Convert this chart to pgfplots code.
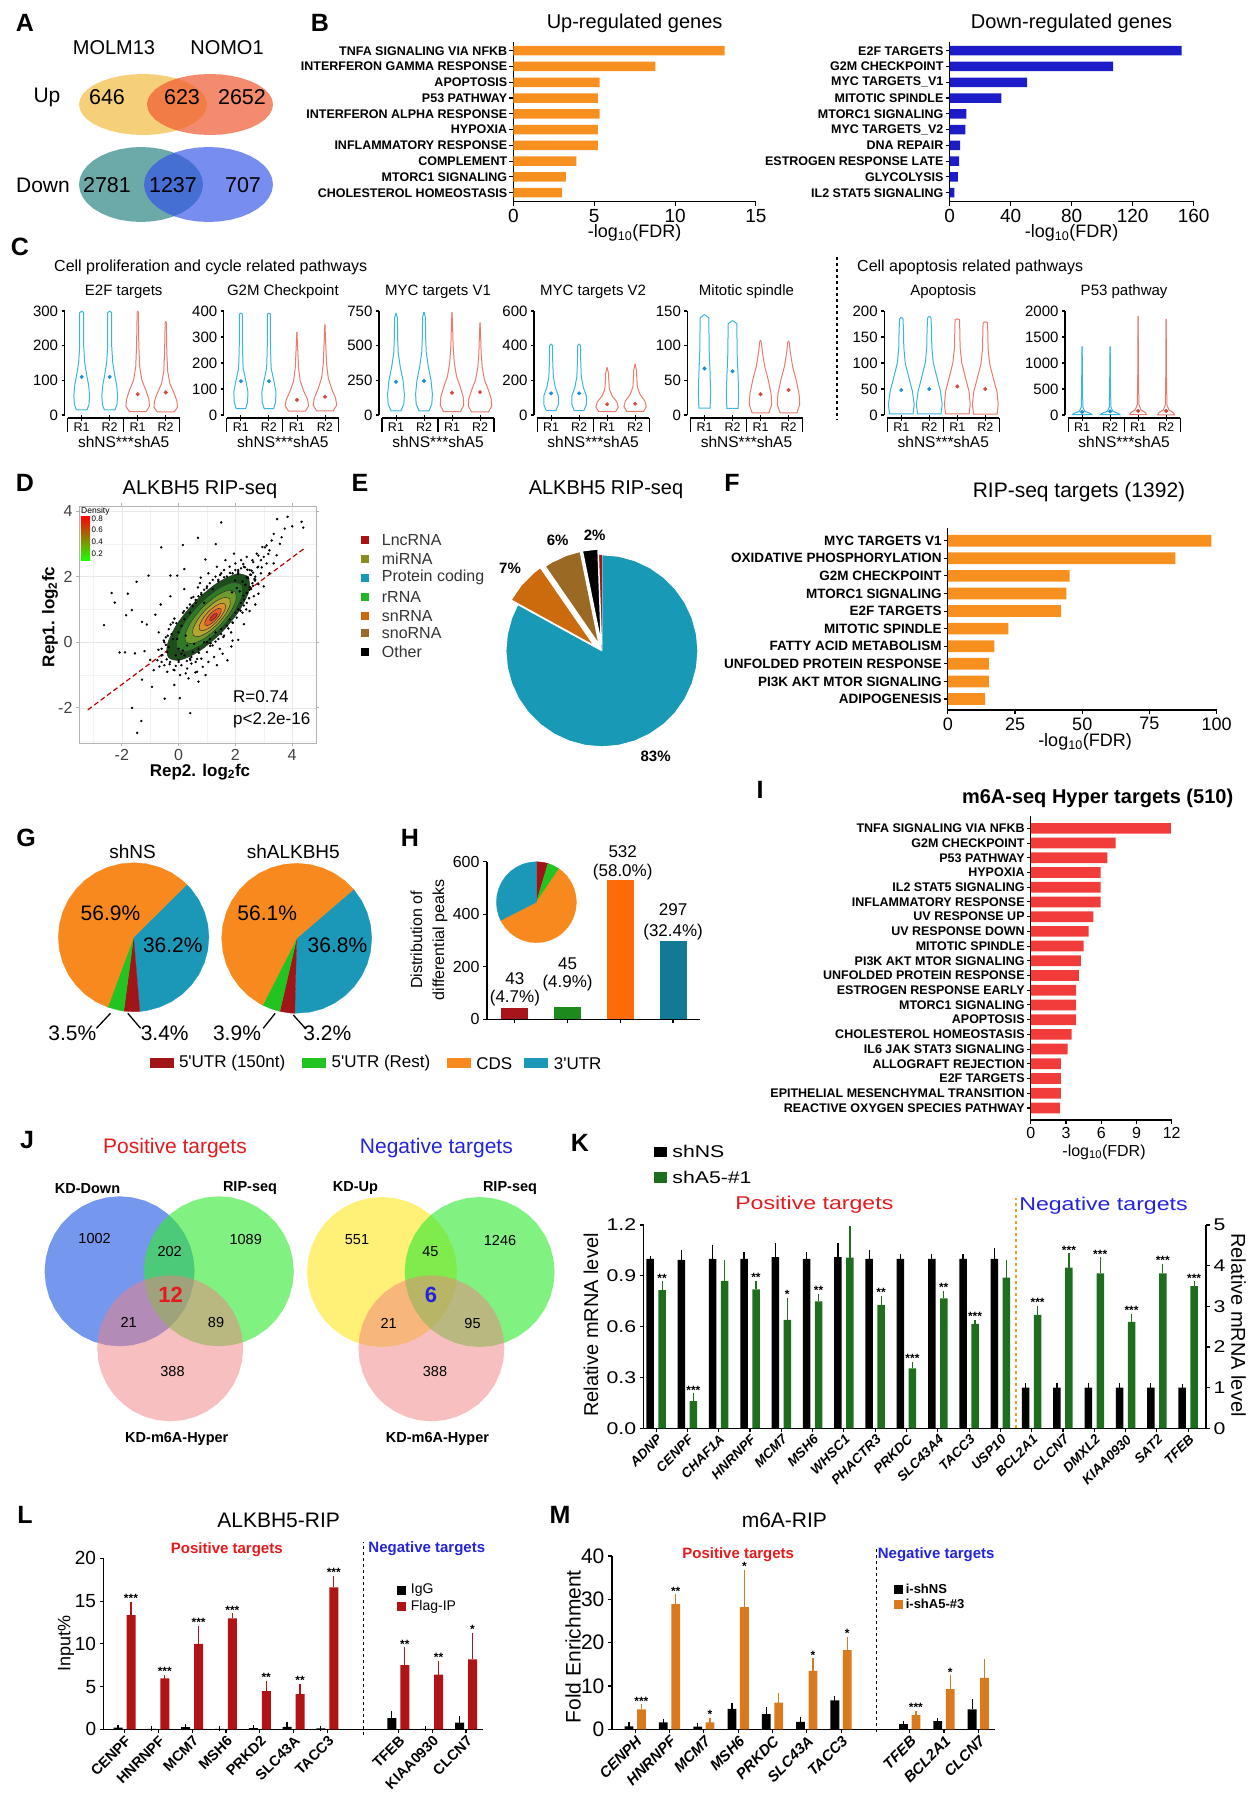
\documentclass[border=0pt]{standalone}
\usepackage{fontspec}
\setmainfont{Liberation Sans}
\newfontfamily\kfont[FakeStretch=1.25]{Liberation Sans}
\usepackage{pgfplots}
\pgfplotsset{compat=1.18}
\usepackage{pgfplotstable}
\usepgfplotslibrary{polar}
\newcommand{\fs}[1]{\fontsize{#1}{#1}\selectfont}
\newcommand{\bfit}{\bfseries\itshape}
\newcommand{\tx}[4][]{\node[inner sep=0pt,#1] at (#2pt,-#3pt) {#4};}

\definecolor{upor}{HTML}{F7901E}
\definecolor{dnbl}{HTML}{1C1CC8}
\definecolor{vblue}{HTML}{3AB5E2}
\definecolor{vred}{HTML}{E97B6D}
\definecolor{vbdot}{HTML}{1B8FD0}
\definecolor{vrdot}{HTML}{D4473B}
\definecolor{aY}{HTML}{F0B020}
\definecolor{aR}{HTML}{F05A30}
\definecolor{aT}{HTML}{2E8585}
\definecolor{aB}{HTML}{3050E8}
\definecolor{eLnc}{HTML}{A81414}
\definecolor{eMi}{HTML}{8C8C1E}
\definecolor{eProt}{HTML}{1899B5}
\definecolor{eR}{HTML}{22B422}
\definecolor{eSn}{HTML}{CC6A0E}
\definecolor{eSno}{HTML}{9A6A24}
\definecolor{gOr}{HTML}{F7891F}
\definecolor{gTe}{HTML}{1B98B8}
\definecolor{gRe}{HTML}{A11418}
\definecolor{gGr}{HTML}{22C422}
\definecolor{hRe}{HTML}{A8141C}
\definecolor{hGr}{HTML}{1D8A1D}
\definecolor{hOr}{HTML}{FF6A0A}
\definecolor{hTe}{HTML}{137A96}
\definecolor{iRed}{HTML}{F23C3C}
\definecolor{jBl}{HTML}{3B6BE6}
\definecolor{jGr}{HTML}{33E833}
\definecolor{jPk}{HTML}{F08080}
\definecolor{jYe}{HTML}{FFE830}
\definecolor{kGr}{HTML}{1E6E1E}
\definecolor{lRe}{HTML}{B01414}
\definecolor{mOr}{HTML}{D97A1E}
\definecolor{posR}{HTML}{E41A1C}
\definecolor{negB}{HTML}{2323DD}
\definecolor{kDiv}{HTML}{F0A020}
\definecolor{dA}{HTML}{1E4D1C}
\definecolor{dB}{HTML}{2F7A26}
\definecolor{dC}{HTML}{6F9A2C}
\definecolor{dD}{HTML}{B5A532}
\definecolor{dE}{HTML}{DE8E2C}
\definecolor{dF}{HTML}{E5602A}
\definecolor{dG}{HTML}{DD2A22}

\pgfplotsset{
  every axis/.append style={/pgf/number format/assume math mode=true, /pgf/number format/1000 sep={}},
  base/.style={scale only axis, clip=false, axis line style={line width=1.3pt}, tick style={line width=1.1pt, black}, tick align=outside, major tick length=4pt, ticklabel style={font=\fs{17}}},
  hbar/.style={base, xbar, bar width=#1, axis x line*=bottom, axis y line*=left, yticklabel style={font=\bfseries\fs{12.5}, inner sep=2pt}, ytick={1,...,10}},
  pie/.style={scale only axis, hide axis, clip=false, xmin=-1, xmax=1, ymin=-1, ymax=1, anchor=center, data cs=polar},
  vio/.style={base, width=118.2pt, height=104pt, xmin=0.39, xmax=4.61, ymin=0, axis y line*=left, axis x line=none, xtick=\empty, ticklabel style={font=\fs{15}}, major tick length=3pt, anchor=south west},
  eb/.style={error bars/.cd, y dir=plus, y explicit, error bar style={line width=1.2pt, #1}, error mark options={line width=1.2pt, #1, mark size=2.5pt}},
  kax/.style={base, width=562.4pt, height=203.3pt, at={(643.6pt,-1428.3pt)}, anchor=south west, xmin=-0.4, xmax=17.57, ymin=0, ybar, bar width=7.5pt, ticklabel style={font=\kfont\fs{17}}, axis line style={line width=1.5pt}},
}

\pgfplotstableread{
c s
1 0
0.9848 0.1736
0.9397 0.3420
0.8660 0.5
0.7660 0.6428
0.6428 0.7660
0.5 0.8660
0.3420 0.9397
0.1736 0.9848
0 1
-0.1736 0.9848
-0.3420 0.9397
-0.5 0.8660
-0.6428 0.7660
-0.7660 0.6428
-0.8660 0.5
-0.9397 0.3420
-0.9848 0.1736
-1 0
-0.9848 -0.1736
-0.9397 -0.3420
-0.8660 -0.5
-0.7660 -0.6428
-0.6428 -0.7660
-0.5 -0.8660
-0.3420 -0.9397
-0.1736 -0.9848
0 -1
0.1736 -0.9848
0.3420 -0.9397
0.5 -0.8660
0.6428 -0.7660
0.7660 -0.6428
0.8660 -0.5
0.9397 -0.3420
0.9848 -0.1736
1 0
}\unitc

\pgfplotstableread{
ox oy
1.282 1.117
0.913 1.193
0.300 0.950
-0.394 0.452
-0.982 -0.168
-1.307 -0.741
-1.282 -1.117
-0.913 -1.193
-0.300 -0.950
0.394 -0.452
0.982 0.168
1.307 0.741
1.282 1.117
}\cont

\pgfplotstableread{
y w
15 0
15 0.19
30 0.26
55 0.28
85 0.25
115 0.18
150 0.11
200 0.07
260 0.07
295 0.07
300 0
}\vEb
\pgfplotstableread{
y w
10 0
10 0.30
25 0.42
45 0.40
70 0.30
100 0.15
140 0.07
200 0.04
250 0.03
295 0.02
300 0
}\vEr
\pgfplotstableread{
y w
25 0
25 0.17
50 0.24
90 0.25
130 0.18
180 0.08
250 0.06
350 0.05
388 0.05
392 0
}\vGb
\pgfplotstableread{
y w
15 0
15 0.30
35 0.42
60 0.38
90 0.25
130 0.12
180 0.06
250 0.03
320 0
}\vGr
\pgfplotstableread{
y w
30 0
30 0.18
80 0.28
150 0.30
250 0.25
350 0.15
450 0.08
550 0.06
700 0.05
735 0
}\vMb
\pgfplotstableread{
y w
25 0
25 0.30
70 0.42
130 0.40
200 0.30
280 0.16
380 0.08
500 0.04
650 0.02
740 0
}\vMr
\pgfplotstableread{
y w
25 0
25 0.17
60 0.26
110 0.26
160 0.15
220 0.08
300 0.06
400 0.05
410 0
}\vVb
\pgfplotstableread{
y w
20 0
20 0.30
45 0.40
75 0.35
110 0.18
150 0.08
200 0.06
240 0.05
275 0
}\vVr
\pgfplotstableread{
y w
10 0
10 0.20
30 0.22
60 0.20
90 0.17
120 0.16
140 0.16
145 0
}\vSb
\pgfplotstableread{
y w
3 0
3 0.30
15 0.40
30 0.38
50 0.28
70 0.15
90 0.07
105 0.03
108 0
}\vSr
\pgfplotstableread{
y w
2 0
2 0.42
20 0.46
45 0.40
70 0.28
100 0.14
130 0.09
160 0.08
185 0.06
188 0
}\vAb
\pgfplotstableread{
y w
2 0
2 0.42
20 0.46
45 0.42
70 0.30
100 0.16
130 0.10
160 0.09
183 0.08
185 0
}\vAr
\pgfplotstableread{
y w
5 0
5 0.35
30 0.30
70 0.10
150 0.03
500 0.015
1000 0.01
1320 0
}\vPb
\pgfplotstableread{
y w
5 0
5 0.30
50 0.25
100 0.10
200 0.03
600 0.015
1900 0
}\vPr

\newcommand{\violin}[4]{%
 \addplot[#3, line width=1pt] table[x expr={#1+\thisrow{w}}, y expr={#4*\thisrow{y}}] {#2};
 \addplot[#3, line width=1pt] table[x expr={#1-\thisrow{w}}, y expr={#4*\thisrow{y}}] {#2};}
\newcommand{\bracket}{%
 \draw[line width=1.1pt] ([yshift=-3pt]axis cs:0.5,0) -- ([yshift=-3pt]axis cs:4.5,0);
 \draw[line width=1.1pt] ([yshift=-3pt]axis cs:0.5,0) -- ([yshift=-17pt]axis cs:0.5,0);
 \draw[line width=1.1pt] ([yshift=-3pt]axis cs:2.5,0) -- ([yshift=-17pt]axis cs:2.5,0);
 \draw[line width=1.1pt] ([yshift=-3pt]axis cs:4.5,0) -- ([yshift=-17pt]axis cs:4.5,0);
 \draw[line width=0.8pt] ([yshift=0pt]axis cs:1,0) -- ([yshift=-6pt]axis cs:1,0);
 \draw[line width=0.8pt] ([yshift=0pt]axis cs:2,0) -- ([yshift=-6pt]axis cs:2,0);
 \draw[line width=0.8pt] ([yshift=0pt]axis cs:3,0) -- ([yshift=-6pt]axis cs:3,0);
 \draw[line width=0.8pt] ([yshift=0pt]axis cs:4,0) -- ([yshift=-6pt]axis cs:4,0);
 \node[font=\fs{12.5}] at ([yshift=-12pt]axis cs:1,0) {R1};
 \node[font=\fs{12.5}] at ([yshift=-12pt]axis cs:2,0) {R2};
 \node[font=\fs{12.5}] at ([yshift=-12pt]axis cs:3,0) {R1};
 \node[font=\fs{12.5}] at ([yshift=-12pt]axis cs:4,0) {R2};
 \node[font=\fs{15.5}] at ([yshift=-26.5pt]axis cs:2.5,0) {shNS***shA5};}
\newcommand{\meandots}[4]{%
 \addplot[only marks, mark=*, mark size=1.8pt, color=vbdot] coordinates {(1,#1) (2,#2)};
 \addplot[only marks, mark=*, mark size=1.8pt, color=vrdot] coordinates {(3,#3) (4,#4)};}

\begin{document}
\begin{tikzpicture}
\path[use as bounding box] (0,0) rectangle (1250pt,-1800pt);

% ===== canvas axis: Venn diagrams (A, J)
\begin{axis}[scale only axis, hide axis, width=1250pt, height=1800pt, at={(0pt,-1800pt)}, anchor=south west, xmin=0, xmax=1250, ymin=-1800, ymax=0, clip=false]
\addplot[draw=none, fill=aY, fill opacity=0.6] table[x expr={143+64*\thisrow{c}}, y expr={-104.5+30.5*\thisrow{s}}] {\unitc};
\addplot[draw=none, fill=aR, fill opacity=0.7] table[x expr={210+63*\thisrow{c}}, y expr={-104.5+30.5*\thisrow{s}}] {\unitc};
\addplot[draw=none, fill=aT, fill opacity=0.7] table[x expr={141+62*\thisrow{c}}, y expr={-184.5+37.5*\thisrow{s}}] {\unitc};
\addplot[draw=none, fill=aB, fill opacity=0.65] table[x expr={208.5+64.5*\thisrow{c}}, y expr={-184.5+37.5*\thisrow{s}}] {\unitc};
\addplot[draw=none, fill=jBl, fill opacity=0.7] table[x expr={119.6+75*\thisrow{c}}, y expr={-1271.3+75*\thisrow{s}}] {\unitc};
\addplot[draw=none, fill=jGr, fill opacity=0.62] table[x expr={218.8+75*\thisrow{c}}, y expr={-1271.3+75*\thisrow{s}}] {\unitc};
\addplot[draw=none, fill=jPk, fill opacity=0.5] table[x expr={170.2+73*\thisrow{c}}, y expr={-1348.3+73*\thisrow{s}}] {\unitc};
\addplot[draw=none, fill=jYe, fill opacity=0.65] table[x expr={382+75*\thisrow{c}}, y expr={-1272+75*\thisrow{s}}] {\unitc};
\addplot[draw=none, fill=jGr, fill opacity=0.62] table[x expr={479.6+75*\thisrow{c}}, y expr={-1272+75*\thisrow{s}}] {\unitc};
\addplot[draw=none, fill=jPk, fill opacity=0.5] table[x expr={431.4+73*\thisrow{c}}, y expr={-1348.3+73*\thisrow{s}}] {\unitc};
\end{axis}

% ===== panel letters
\tx[font=\bfseries\fs{25}]{25}{23}{A}
\tx[font=\bfseries\fs{25}]{320}{23}{B}
\tx[font=\bfseries\fs{25}]{20}{247}{C}
\tx[font=\bfseries\fs{25}]{25}{483}{D}
\tx[font=\bfseries\fs{25}]{360}{483}{E}
\tx[font=\bfseries\fs{25}]{732}{483}{F}
\tx[font=\bfseries\fs{25}]{26}{838}{G}
\tx[font=\bfseries\fs{25}]{410}{838}{H}
\tx[font=\bfseries\fs{25}]{760}{790}{I}
\tx[font=\bfseries\fs{25}]{27}{1140}{J}
\tx[font=\bfseries\fs{25}]{580}{1143}{K}
\tx[font=\bfseries\fs{25}]{25}{1515}{L}
\tx[font=\bfseries\fs{25}]{560}{1515}{M}

% ===== A texts
\tx[font=\fs{20}]{114}{48}{MOLM13}
\tx[font=\fs{20}]{227}{48}{NOMO1}
\tx[font=\fs{21}]{47}{97}{Up}
\tx[font=\fs{21.5}]{107}{97}{646}
\tx[font=\fs{21.5}]{182}{97}{623}
\tx[font=\fs{21.5}]{242}{97}{2652}
\tx[font=\fs{21}]{43}{185}{Down}
\tx[font=\fs{21.5}]{107}{185}{2781}
\tx[font=\fs{21.5}]{173}{185}{1237}
\tx[font=\fs{21.5}]{243}{185}{707}

% ===== B
\tx[font=\fs{20}]{634.6}{23}{Up-regulated genes}
\tx[font=\fs{20}]{1071.6}{23}{Down-regulated genes}
\begin{axis}[hbar=9.5pt, width=242.5pt, height=160pt, at={(513.4pt,-201.7pt)}, anchor=south west,
 xmin=0, xmax=15, ymin=0.43, ymax=10.57, xtick={0,5,10,15}, xticklabel style={font=\fs{19}},
 yticklabels={CHOLESTEROL HOMEOSTASIS,MTORC1 SIGNALING,COMPLEMENT,INFLAMMATORY RESPONSE,HYPOXIA,INTERFERON ALPHA RESPONSE,P53 PATHWAY,APOPTOSIS,INTERFERON GAMMA RESPONSE,TNFA SIGNALING VIA NFKB}]
\addplot[fill=upor, draw=none] coordinates {(3.02,1) (3.25,2) (3.9,3) (5.23,4) (5.23,5) (5.33,6) (5.23,7) (5.33,8) (8.78,9) (13.07,10)};
\end{axis}
\begin{axis}[hbar=9.5pt, width=244pt, height=160pt, at={(949.6pt,-201.7pt)}, anchor=south west,
 xmin=0, xmax=160, ymin=0.43, ymax=10.57, xtick={0,40,80,120,160}, xticklabel style={font=\fs{19}},
 yticklabels={IL2 STAT5 SIGNALING,GLYCOLYSIS,ESTROGEN RESPONSE LATE,DNA REPAIR,MYC TARGETS\_V2,MTORC1 SIGNALING,MITOTIC SPINDLE,MYC TARGETS\_V1,G2M CHECKPOINT,E2F TARGETS}]
\addplot[fill=dnbl, draw=none] coordinates {(3.2,1) (5.4,2) (6.3,3) (6.9,4) (10.4,5) (11.0,6) (33.9,7) (50.8,8) (107.3,9) (152.1,10)};
\end{axis}
\tx[font=\fs{18}]{634.6}{233}{-log\textsubscript{10}(FDR)}
\tx[font=\fs{18}]{1071.6}{233}{-log\textsubscript{10}(FDR)}

% ===== C
\tx[font=\fs{16}, anchor=west]{54}{267}{Cell proliferation and cycle related pathways}
\tx[font=\fs{16}, anchor=west]{857}{267}{Cell apoptosis related pathways}
\draw[dashed, line width=1.2pt] (837pt,-257pt) -- (837pt,-420pt);
\tx[font=\fs{15}]{123.7}{292}{E2F targets}
\tx[font=\fs{15}]{282.9}{292}{G2M Checkpoint}
\tx[font=\fs{15}]{438}{292}{MYC targets V1}
\tx[font=\fs{15}]{593.1}{292}{MYC targets V2}
\tx[font=\fs{15}]{746.5}{292}{Mitotic spindle}
\tx[font=\fs{15}]{943.3}{292}{Apoptosis}
\tx[font=\fs{15}]{1124.1}{292}{P53 pathway}

\begin{axis}[vio, at={(64.6pt,-415pt)}, ymax=300, ytick={0,100,200,300}]
\violin{1}{\vEb}{vblue}{1}
\violin{2}{\vEb}{vblue}{1}
\violin{3}{\vEr}{vred}{1}
\violin{4}{\vEr}{vred}{0.9}
\meandots{110}{110}{60}{65}
\bracket
\end{axis}
\begin{axis}[vio, at={(223.8pt,-415pt)}, ymax=400, ytick={0,100,200,300,400}]
\violin{1}{\vGb}{vblue}{1}
\violin{2}{\vGb}{vblue}{1}
\violin{3}{\vGr}{vred}{1}
\violin{4}{\vGr}{vred}{1.09}
\meandots{130}{130}{58}{70}
\bracket
\end{axis}
\begin{axis}[vio, at={(378.9pt,-415pt)}, ymax=750, ytick={0,250,500,750}]
\violin{1}{\vMb}{vblue}{1}
\violin{2}{\vMb}{vblue}{1.01}
\violin{3}{\vMr}{vred}{1}
\violin{4}{\vMr}{vred}{0.9}
\meandots{240}{245}{160}{165}
\bracket
\end{axis}
\begin{axis}[vio, at={(534pt,-415pt)}, ymax=600, ytick={0,200,400,600}]
\violin{1}{\vVb}{vblue}{1}
\violin{2}{\vVb}{vblue}{1}
\violin{3}{\vVr}{vred}{1}
\violin{4}{\vVr}{vred}{1.07}
\meandots{125}{125}{62}{65}
\bracket
\end{axis}
\begin{axis}[vio, at={(687.4pt,-415pt)}, ymax=150, ytick={0,50,100,150}]
\violin{1}{\vSb}{vblue}{1}
\violin{2}{\vSb}{vblue}{0.94}
\violin{3}{\vSr}{vred}{1}
\violin{4}{\vSr}{vred}{0.99}
\meandots{67}{63}{30}{36}
\bracket
\end{axis}
\begin{axis}[vio, at={(884.2pt,-415pt)}, ymax=200, ytick={0,50,100,150,200}]
\violin{1}{\vAb}{vblue}{1}
\violin{2}{\vAb}{vblue}{1.01}
\violin{3}{\vAr}{vred}{1}
\violin{4}{\vAr}{vred}{0.97}
\meandots{48}{50}{55}{50}
\bracket
\end{axis}
\begin{axis}[vio, at={(1065pt,-415pt)}, ymax=2000, ytick={0,500,1000,1500,2000}]
\violin{1}{\vPb}{vblue}{1}
\violin{2}{\vPb}{vblue}{1}
\violin{3}{\vPr}{vred}{1}
\violin{4}{\vPr}{vred}{0.97}
\meandots{60}{70}{80}{80}
\bracket
\end{axis}

% ===== D
\tx[font=\fs{20}]{200}{490}{ALKBH5 RIP-seq}
\begin{axis}[scale only axis, width=237pt, height=237pt, at={(79pt,-743pt)}, anchor=south west,
 xmin=-3.51, xmax=4.84, ymin=-3.07, ymax=4.15, axis line style={draw=gray!60, line width=0.8pt},
 xtick={-2,0,2,4}, ytick={-2,0,2,4}, minor xtick={-3,-1,1,3}, minor ytick={-3,-1,1,3},
 grid=both, major grid style={black!9, line width=0.6pt}, minor grid style={black!5, line width=0.4pt},
 tick align=outside, major tick length=3pt, minor tick length=0pt, tick style={gray!60, line width=0.8pt},
 ticklabel style={font=\fs{16}, text=black!75}]
\addplot[dashed, dash pattern=on 5pt off 3pt, line width=1.2pt, color=red!75!black] coordinates {(-3.2,-2.06) (4.4,2.84)};
\addplot[only marks, mark=*, mark size=1pt, color=black] coordinates {
(1.50,3.65) (0.68,3.18) (0.15,2.96) (-0.61,2.89) (1.31,2.99) (0.94,2.52) (0.2,2.23) (-1.06,2.03) (-0.29,2.03) (-0.05,2.03) (0.78,1.97) (-1.48,1.84) (-2.36,1.50) (-1.79,1.48) (-2.25,1.21) (-2.63,0.52) (-1.85,0.82) (-1.65,0.98) (-1.29,0.62) (-1.12,0.54) (-0.82,0.84) (-0.63,1.15) (-0.29,1.40) (0.2,1.62) (0.68,1.67) (-2.08,-0.31) (-1.89,-0.31) (-1.54,-0.34) (-1.2,-0.27) (-1.0,-0.54) (-0.88,-0.85) (-1.29,-1.14) (-0.94,-1.36) (-0.49,-1.72) (0.04,-1.70) (-0.15,-1.30) (0.41,-2.16) (-1.64,-2.0) (-1.31,-2.40) (-1.46,-2.76) (1.72,-0.55) (0.59,-0.92) (0.41,-0.54) (1.13,-0.03) (1.86,-0.13) (2.1,0.07)
(3.47,3.75) (3.84,3.82) (4.33,3.67) (4.39,3.49) (4.0,3.53) (3.74,3.46) (3.63,3.20) (3.28,3.1) (3.57,3.0) (3.04,2.89) (3.16,2.69) (2.81,2.64) (2.63,2.44) (2.93,2.28) (2.57,2.18) (2.34,2.28) (2.4,1.98) (2.1,2.08) (1.99,1.88) (2.69,1.88) (2.51,1.68) (2.81,1.48) (2.28,1.42) (1.88,1.52)
(-0.4,-0.3) (-0.3,-0.6) (-0.2,0.1) (-0.1,-0.4) (0,0.3) (0,-0.2) (0.1,-0.7) (0.1,0.5) (0.2,-0.4) (0.2,0.7) (0.3,-0.1) (0.3,-0.8) (0.4,0.9) (0.4,-0.5) (0.5,1.1) (0.5,-0.3) (0.6,-0.6) (0.6,1.2) (0.7,-0.2) (0.7,1.4) (0.8,-0.5) (0.8,1.5) (0.9,0.0) (0.9,1.6) (1.0,-0.3) (1.0,1.7) (1.1,0.1) (1.1,1.8) (1.2,-0.1) (1.2,1.9) (1.3,0.3) (1.3,2.0) (1.4,0.1) (1.4,1.9) (1.5,0.4) (1.5,2.1) (1.6,0.2) (1.6,2.2) (1.7,0.5) (1.7,2.0) (1.8,0.7) (1.8,2.3) (1.9,0.6) (1.9,2.1) (2.0,0.9) (2.0,2.4) (2.1,1.0) (2.1,2.2) (2.2,1.2) (2.2,2.5) (2.3,1.3) (2.3,2.3) (2.4,1.5) (2.4,2.6) (2.5,1.6) (2.5,2.2) (2.6,1.8) (2.6,2.5) (2.7,1.9) (2.8,2.3) (2.9,2.1) (3.0,2.6) (2.45,1.95) (2.55,2.05) (2.35,1.75) (2.25,1.85) (2.15,1.55) (2.05,1.65) (-0.25,0.25) (-0.5,0.0) (-0.6,-0.4) (-0.7,0.3) (0.05,-1.0) (0.35,-1.1) (0.65,-0.9) (1.05,-0.6) (1.45,-0.2) (1.85,0.3) (2.25,0.9) (2.65,1.4) (-0.2,0.6) (0.15,0.9) (0.45,1.35) (0.75,1.8) (1.05,2.1) (1.35,2.3) (1.65,2.5) (1.95,2.7) (0.25,0.2) (0.55,-0.05) (2.75,2.7) (3.1,2.4) (3.2,2.8) (2.95,2.9)
(-0.5,-0.7) (-0.4,-0.9) (-0.6,-0.2) (-0.75,-0.55) (-0.45,0.15) (-0.35,-0.15) (-0.15,-0.85) (0.0,-0.55) (0.25,-0.95) (0.15,-0.25) (-0.05,0.1) (0.45,-0.65) (0.85,-0.75) (1.25,-0.45) (1.55,-0.35) (1.35,-0.7) (0.95,-1.0) (0.7,-1.2) (1.9,0.05) (2.3,0.55) (2.5,0.95) (2.7,1.15) (3.0,1.7) (3.2,2.1) (3.35,2.4) (3.45,2.65) (2.9,2.5) (3.1,2.95) (3.35,3.3)
(2.52,2.06) (2.10,2.14) (1.40,1.86) (0.60,1.29) (-0.08,0.58) (-0.45,-0.08) (-0.42,-0.52) (0.0,-0.60) (0.71,-0.32) (1.50,0.25) (2.18,0.96) (2.55,1.62)
(2.78,2.28) (2.28,2.38) (1.46,2.05) (0.52,1.38) (-0.28,0.54) (-0.71,-0.23) (-0.68,-0.74) (-0.18,-0.84) (0.65,-0.51) (1.58,0.16) (2.38,1.0) (2.81,1.77)
(2.42,2.21) (1.81,2.11) (0.99,1.65) (0.19,0.95) (-0.38,0.20) (-0.57,-0.39) (-0.32,-0.67) (0.29,-0.57) (1.11,-0.11) (1.91,0.59) (2.48,1.34) (2.67,1.93)
(2.62,2.12) (2.2,2.25) (1.6,1.98) (0.8,1.45) (0.3,1.05) (-0.15,0.72) (-0.52,0.05) (-0.6,-0.6) (-0.1,-0.72) (0.45,-0.45) (1.3,0.02) (1.75,0.42) (2.05,0.75) (2.4,1.2) (2.62,1.72) (1.2,1.62) (0.9,1.2) (-0.35,0.4) (0.1,-0.35) (1.0,0.0) (2.3,1.12) (2.7,2.0) (2.0,2.2) (0.4,1.15)};
\addplot[fill=dA, draw=black!80, line width=0.5pt, smooth] table[x expr={1.05+1.1*\thisrow{ox}}, y expr={0.77+1.1*\thisrow{oy}}] {\cont};
\addplot[fill=dB, draw=black!80, line width=0.5pt, smooth] table[x expr={1.09+0.88*\thisrow{ox}}, y expr={0.77+0.88*\thisrow{oy}}] {\cont};
\addplot[fill=dC, draw=black!80, line width=0.5pt, smooth] table[x expr={1.13+0.68*\thisrow{ox}}, y expr={0.77+0.68*\thisrow{oy}}] {\cont};
\addplot[fill=dD, draw=black!80, line width=0.5pt, smooth] table[x expr={1.16+0.5*\thisrow{ox}}, y expr={0.77+0.5*\thisrow{oy}}] {\cont};
\addplot[fill=dE, draw=black!80, line width=0.5pt, smooth] table[x expr={1.19+0.35*\thisrow{ox}}, y expr={0.77+0.35*\thisrow{oy}}] {\cont};
\addplot[fill=dF, draw=black!80, line width=0.5pt, smooth] table[x expr={1.21+0.22*\thisrow{ox}}, y expr={0.77+0.22*\thisrow{oy}}] {\cont};
\addplot[fill=dG, draw=black!80, line width=0.5pt, smooth] table[x expr={1.23+0.1*\thisrow{ox}}, y expr={0.77+0.1*\thisrow{oy}}] {\cont};
\shade[top color=red, middle color=yellow!85!orange, bottom color=green!85!lime] (axis cs:-3.44,2.50) rectangle (axis cs:-3.12,3.84);
\node[font=\fs{8.5}, anchor=west, inner sep=0pt] at (axis cs:-3.44,4.0) {Density};
\node[font=\fs{8}, anchor=west, inner sep=0pt] at (axis cs:-3.07,3.75) {0.8};
\node[font=\fs{8}, anchor=west, inner sep=0pt] at (axis cs:-3.07,3.43) {0.6};
\node[font=\fs{8}, anchor=west, inner sep=0pt] at (axis cs:-3.07,3.06) {0.4};
\node[font=\fs{8}, anchor=west, inner sep=0pt] at (axis cs:-3.07,2.70) {0.2};
\end{axis}
\tx[font=\fs{17}, anchor=west]{233}{697}{R=0.74}
\tx[font=\fs{17}, anchor=west]{233}{720}{p<2.2e-16}
\tx[font=\bfseries\fs{17}, rotate=90]{50}{617}{Rep1. log\textsubscript{2}fc}
\tx[font=\bfseries\fs{17}]{200}{772}{Rep2. log\textsubscript{2}fc}

% ===== E
\tx[font=\fs{20}]{606}{490}{ALKBH5 RIP-seq}
\fill[eLnc] (361pt,-536pt) rectangle (369pt,-544pt);
\fill[eMi] (361pt,-555pt) rectangle (369pt,-563pt);
\fill[eProt] (361pt,-573.7pt) rectangle (369pt,-581.7pt);
\fill[eR] (361pt,-592.7pt) rectangle (369pt,-600.7pt);
\fill[eSn] (361pt,-611.7pt) rectangle (369pt,-619.7pt);
\fill[eSno] (361pt,-629.3pt) rectangle (369pt,-637.3pt);
\fill[black] (361pt,-647.7pt) rectangle (369pt,-655.7pt);
\tx[font=\fs{16}, anchor=west, text=black!80]{381.7}{540}{LncRNA}
\tx[font=\fs{16}, anchor=west, text=black!80]{381.7}{559}{miRNA}
\tx[font=\fs{16}, anchor=west, text=black!80]{381.7}{577.7}{Protein coding}
\tx[font=\fs{16}, anchor=west, text=black!80]{381.7}{596.7}{rRNA}
\tx[font=\fs{16}, anchor=west, text=black!80]{381.7}{615.7}{snRNA}
\tx[font=\fs{16}, anchor=west, text=black!80]{381.7}{633.3}{snoRNA}
\tx[font=\fs{16}, anchor=west, text=black!80]{381.7}{651.7}{Other}
\begin{axis}[pie, width=192pt, height=192pt, at={(601.9pt,-650.8pt)}]
\addplot[fill=eProt, draw=white, line width=1pt] coordinates {(0,0) (151.2,1) (160,1) (170,1) (180,1) (190,1) (200,1) (210,1) (220,1) (230,1) (240,1) (250,1) (260,1) (270,1) (280,1) (290,1) (300,1) (310,1) (320,1) (330,1) (340,1) (350,1) (360,1) (370,1) (380,1) (390,1) (400,1) (410,1) (420,1) (430,1) (440,1) (450,1) (0,0)};
\addplot[fill=eLnc, draw=none] coordinates {(0,0) (90,1) (92,1) (0,0)};
\end{axis}
\begin{axis}[pie, width=192pt, height=192pt, at={(601.4pt,-644.8pt)}]
\addplot[fill=black, draw=white, line width=1.5pt] coordinates {(0,0) (92,1) (101.5,1) (0,0)};
\end{axis}
\begin{axis}[pie, width=192pt, height=192pt, at={(599.4pt,-645.3pt)}]
\addplot[fill=eSno, draw=white, line width=1.5pt] coordinates {(0,0) (101.5,1) (110,1) (120,1) (124.6,1) (0,0)};
\end{axis}
\begin{axis}[pie, width=192pt, height=192pt, at={(594.9pt,-646.3pt)}]
\addplot[fill=eSn, draw=white, line width=1.5pt] coordinates {(0,0) (124.6,1) (130,1) (140,1) (151.2,1) (0,0)};
\end{axis}
\tx[font=\bfseries\fs{15}]{510}{568}{7\%}
\tx[font=\bfseries\fs{15}]{557.6}{540}{6\%}
\tx[font=\bfseries\fs{15}]{594.7}{535}{2\%}
\tx[font=\bfseries\fs{15}]{655.6}{756.7}{83\%}

% ===== F
\tx[font=\fs{21}]{1079}{491.7}{RIP-seq targets (1392)}
\begin{axis}[hbar=11.7pt, width=268.9pt, height=182pt, at={(947.8pt,-710pt)}, anchor=south west,
 xmin=0, xmax=100, ymin=0.375, ymax=10.72, xtick={0,25,50,75,100}, xticklabel style={font=\fs{18}}, yticklabel style={font=\bfseries\fs{13.5}},
 yticklabels={ADIPOGENESIS,PI3K AKT MTOR SIGNALING,UNFOLDED PROTEIN RESPONSE,FATTY ACID METABOLISM,MITOTIC SPINDLE,E2F TARGETS,MTORC1 SIGNALING,G2M CHECKPOINT,OXIDATIVE PHOSPHORYLATION,MYC TARGETS V1}]
\addplot[fill=upor, draw=none] coordinates {(13.9,1) (15.3,2) (15.3,3) (17.3,4) (22.5,5) (42.1,6) (44.1,7) (45.3,8) (84.6,9) (98.0,10)};
\end{axis}
\tx[font=\fs{18}]{1085}{742}{-log\textsubscript{10}(FDR)}

% ===== G
\tx[font=\fs{19}]{132.6}{851.7}{shNS}
\tx[font=\fs{19}]{293.3}{851.7}{shALKBH5}
\begin{axis}[pie, width=150.6pt, height=149pt, at={(133.6pt,-937.2pt)}]
\addplot[fill=gTe, draw=gTe, line width=0.3pt] coordinates {(0,0) (-85.3,1) (-80,1) (-70,1) (-60,1) (-50,1) (-40,1) (-30,1) (-20,1) (-10,1) (0,1) (10,1) (20,1) (30,1) (40,1) (45,1) (0,0)};
\addplot[fill=gRe, draw=gRe, line width=0.3pt] coordinates {(0,0) (-97.5,1) (-90,1) (-85.3,1) (0,0)};
\addplot[fill=gGr, draw=gGr, line width=0.3pt] coordinates {(0,0) (-110.1,1) (-100,1) (-97.5,1) (0,0)};
\addplot[fill=gOr, draw=gOr, line width=0.3pt] coordinates {(0,0) (45,1) (50,1) (60,1) (70,1) (80,1) (90,1) (100,1) (110,1) (120,1) (130,1) (140,1) (150,1) (160,1) (170,1) (180,1) (190,1) (200,1) (210,1) (220,1) (230,1) (240,1) (249.9,1) (0,0)};
\end{axis}
\begin{axis}[pie, width=150pt, height=150pt, at={(296.7pt,-938.3pt)}]
\addplot[fill=gTe, draw=gTe, line width=0.3pt] coordinates {(0,0) (-91.5,1) (-80,1) (-70,1) (-60,1) (-50,1) (-40,1) (-30,1) (-20,1) (-10,1) (0,1) (10,1) (20,1) (30,1) (40,1) (40.7,1) (0,0)};
\addplot[fill=gRe, draw=gRe, line width=0.3pt] coordinates {(0,0) (-103,1) (-95,1) (-91.5,1) (0,0)};
\addplot[fill=gGr, draw=gGr, line width=0.3pt] coordinates {(0,0) (-117,1) (-110,1) (-103,1) (0,0)};
\addplot[fill=gOr, draw=gOr, line width=0.3pt] coordinates {(0,0) (40.7,1) (50,1) (60,1) (70,1) (80,1) (90,1) (100,1) (110,1) (120,1) (130,1) (140,1) (150,1) (160,1) (170,1) (180,1) (190,1) (200,1) (210,1) (220,1) (230,1) (240,1) (243,1) (0,0)};
\end{axis}
\tx[font=\fs{21}]{110.5}{913.3}{56.9\%}
\tx[font=\fs{21}]{172.8}{945}{36.2\%}
\tx[font=\fs{21}]{72.3}{1033.3}{3.5\%}
\tx[font=\fs{21}]{164.7}{1033.3}{3.4\%}
\tx[font=\fs{21}]{267.2}{913.3}{56.1\%}
\tx[font=\fs{21}]{337.5}{945}{36.8\%}
\tx[font=\fs{21}]{237}{1033.3}{3.9\%}
\tx[font=\fs{21}]{327.4}{1033.3}{3.2\%}
\draw[line width=1.3pt] (110.5pt,-1013.3pt) -- (96.4pt,-1028.3pt);
\draw[line width=1.3pt] (127.8pt,-1013.3pt) -- (140.6pt,-1028.3pt);
\draw[line width=1.3pt] (275.2pt,-1013.3pt) -- (263.2pt,-1028.3pt);
\draw[line width=1.3pt] (293.3pt,-1015pt) -- (305.3pt,-1028.3pt);
\fill[gRe] (149.5pt,-1058.3pt) rectangle (173.6pt,-1068.3pt);
\fill[gGr] (302.1pt,-1058.3pt) rectangle (326.2pt,-1068.3pt);
\fill[gOr] (446.8pt,-1058.3pt) rectangle (470.9pt,-1068.3pt);
\fill[gTe] (524.3pt,-1058.3pt) rectangle (548.4pt,-1068.3pt);
\tx[font=\fs{17}, anchor=west]{178.8}{1063.3}{5\textquotesingle UTR (150nt)}
\tx[font=\fs{17}, anchor=west]{331.5}{1063.3}{5\textquotesingle UTR (Rest)}
\tx[font=\fs{17}, anchor=west]{476.1}{1063.3}{CDS}
\tx[font=\fs{17}, anchor=west]{553.6}{1063.3}{3\textquotesingle UTR}

% ===== H
\begin{axis}[base, width=213.4pt, height=157.6pt, at={(487pt,-1019.3pt)}, anchor=south west,
 xmin=0.47, xmax=4.52, ymin=0, ymax=600, ytick={0,200,400,600}, xtick={1,2,3,4}, xticklabels={},
 axis x line*=bottom, axis y line*=left, ybar, bar width=27pt, yticklabel style={font=\fs{16}}]
\addplot[fill=hRe, draw=none, bar shift=0pt] coordinates {(1,43)};
\addplot[fill=hGr, draw=none, bar shift=0pt] coordinates {(2,45)};
\addplot[fill=hOr, draw=none, bar shift=0pt] coordinates {(3,532)};
\addplot[fill=hTe, draw=none, bar shift=0pt] coordinates {(4,297)};
\end{axis}
\begin{axis}[pie, width=80pt, height=81pt, at={(536.4pt,-902.2pt)}]
\addplot[fill=gRe, draw=gRe, line width=0.3pt] coordinates {(0,0) (73.1,1) (80,1) (90,1) (0,0)};
\addplot[fill=gGr, draw=gGr, line width=0.3pt] coordinates {(0,0) (55.5,1) (65,1) (73.1,1) (0,0)};
\addplot[fill=gOr, draw=gOr, line width=0.3pt] coordinates {(0,0) (-153.3,1) (-150,1) (-140,1) (-130,1) (-120,1) (-110,1) (-100,1) (-90,1) (-80,1) (-70,1) (-60,1) (-50,1) (-40,1) (-30,1) (-20,1) (-10,1) (0,1) (10,1) (20,1) (30,1) (40,1) (50,1) (55.5,1) (0,0)};
\addplot[fill=gTe, draw=gTe, line width=0.3pt] coordinates {(0,0) (90,1) (100,1) (110,1) (120,1) (130,1) (140,1) (150,1) (160,1) (170,1) (180,1) (190,1) (200,1) (206.7,1) (0,0)};
\end{axis}
\tx[font=\fs{17}]{514.9}{978.3}{43}
\tx[font=\fs{17}]{514.9}{998.3}{(4.7\%)}
\tx[font=\fs{17}]{567.6}{963.3}{45}
\tx[font=\fs{17}]{567.6}{983.3}{(4.9\%)}
\tx[font=\fs{17}]{622.7}{851.7}{532}
\tx[font=\fs{17}]{622.7}{871.7}{(58.0\%)}
\tx[font=\fs{17}]{673.1}{910}{297}
\tx[font=\fs{17}]{673.1}{931.7}{(32.4\%)}
\tx[font=\fs{16}, rotate=90, align=center]{429}{940}{Distribution of\\[6pt]differential peaks}

% ===== I
\tx[font=\bfseries\fs{20}]{1097.6}{798.3}{m6A-seq Hyper targets (510)}
\begin{axis}[hbar=10.7pt, width=140.9pt, height=304pt, at={(1030.8pt,-1120pt)}, anchor=south west,
 xmin=0, xmax=12, ymin=0.18, ymax=20.84, xtick={0,3,6,9,12}, ytick={1,...,20}, xticklabel style={font=\fs{16}}, yticklabel style={font=\bfseries\fs{12.5}},
 yticklabels={REACTIVE OXYGEN SPECIES PATHWAY,EPITHELIAL MESENCHYMAL TRANSITION,E2F TARGETS,ALLOGRAFT REJECTION,IL6 JAK STAT3 SIGNALING,CHOLESTEROL HOMEOSTASIS,APOPTOSIS,MTORC1 SIGNALING,ESTROGEN RESPONSE EARLY,UNFOLDED PROTEIN RESPONSE,PI3K AKT MTOR SIGNALING,MITOTIC SPINDLE,UV RESPONSE DOWN,UV RESPONSE UP,INFLAMMATORY RESPONSE,IL2 STAT5 SIGNALING,HYPOXIA,P53 PATHWAY,G2M CHECKPOINT,TNFA SIGNALING VIA NFKB}]
\addplot[fill=iRed, draw=none] coordinates {(2.5,1) (2.57,2) (2.57,3) (2.57,4) (3.14,5) (3.48,6) (3.85,7) (3.85,8) (3.85,9) (4.09,10) (4.26,11) (4.49,12) (4.93,13) (5.33,14) (5.94,15) (5.94,16) (5.94,17) (6.52,18) (7.22,19) (11.93,20)};
\end{axis}
\tx[font=\fs{16}]{1104}{1152}{-log\textsubscript{10}(FDR)}

% ===== J
\tx[font=\fs{21}, text=posR]{175}{1148.3}{Positive targets}
\tx[font=\fs{21}, text=negB]{436.4}{1148.3}{Negative targets}
\tx[font=\bfseries\fs{14.5}]{87.5}{1188.3}{KD-Down}
\tx[font=\bfseries\fs{14.5}]{250}{1188.3}{RIP-seq}
\tx[font=\bfseries\fs{14.5}]{176.8}{1439.3}{KD-m6A-Hyper}
\tx[font=\fs{14.5}]{94.6}{1238.3}{1002}
\tx[font=\fs{14.5}]{169.6}{1251}{202}
\tx[font=\fs{14.5}]{245.7}{1239}{1089}
\tx[font=\bfseries\fs{22}, text=posR]{170.7}{1295}{12}
\tx[font=\fs{14.5}]{128.6}{1322.7}{21}
\tx[font=\fs{14.5}]{216}{1322.7}{89}
\tx[font=\fs{14.5}]{172.5}{1371.7}{388}
\tx[font=\bfseries\fs{14.5}]{355.4}{1188.3}{KD-Up}
\tx[font=\bfseries\fs{14.5}]{510}{1188.3}{RIP-seq}
\tx[font=\bfseries\fs{14.5}]{437.5}{1439.3}{KD-m6A-Hyper}
\tx[font=\fs{14.5}]{357}{1240}{551}
\tx[font=\fs{14.5}]{430.4}{1251.7}{45}
\tx[font=\fs{14.5}]{500}{1240}{1246}
\tx[font=\bfseries\fs{22}, text=negB]{431}{1295}{6}
\tx[font=\fs{14.5}]{388.6}{1323.3}{21}
\tx[font=\fs{14.5}]{472.5}{1323.3}{95}
\tx[font=\fs{14.5}]{435}{1371.7}{388}

% ===== K
\fill[black] (653.7pt,-1146.7pt) rectangle (667pt,-1157.3pt);
\fill[kGr] (653.7pt,-1172.3pt) rectangle (667pt,-1182.7pt);
\tx[font=\kfont\fs{17}, anchor=west]{672.2}{1151.7}{shNS}
\tx[font=\kfont\fs{17}, anchor=west]{672.2}{1177.3}{shA5-\#1}
\tx[font=\kfont\fs{18.5}, text=posR]{814.3}{1205}{Positive targets}
\tx[font=\kfont\fs{18.5}, text=negB]{1103.5}{1206}{Negative targets}
\tx[font=\fs{20}, rotate=90]{591}{1325}{Relative mRNA level}
\tx[font=\fs{20}, rotate=-90]{1238.5}{1325}{Relative mRNA level}
\begin{axis}[kax, ymax=1.2, ytick={0,0.3,0.6,0.9,1.2}, yticklabel style={/pgf/number format/.cd, fixed, fixed zerofill, precision=1},
 axis y line*=left, axis x line*=bottom, xtick={0,...,17},
 xticklabels={ADNP,CENPF,CHAF1A,HNRNPF,MCM7,MSH6,WHSC1,PHACTR3,PRKDC,SLC43A4,TACC3,USP10,BCL2A1,CLCN7,DMXL2,KIAA0930,SAT2,TFEB},
 xticklabel style={rotate=45, anchor=north east, font=\bfit\fs{13.5}, inner sep=1pt}]
\addplot[fill=black, draw=none, bar shift=-6pt, eb=black] coordinates {(0,1.0) +- (0,0.005) (1,0.995) +- (0,0.04) (2,1.0) +- (0,0.07) (3,1.0) +- (0,0.025) (4,1.01) +- (0,0.07) (5,1.0) +- (0,0.025) (6,1.01) +- (0,0.07) (7,1.0) +- (0,0.04) (8,1.0) +- (0,0.015) (9,1.0) +- (0,0.015) (10,1.0) +- (0,0.015) (11,1.0) +- (0,0.05)};
\addplot[fill=kGr, draw=none, bar shift=6pt, eb=kGr] coordinates {(0,0.816) +- (0,0.036) (1,0.161) +- (0,0.03) (2,0.87) +- (0,0.11) (3,0.82) +- (0,0.036) (4,0.64) +- (0,0.117) (5,0.75) +- (0,0.027) (6,1.007) +- (0,0.173) (7,0.728) +- (0,0.039) (8,0.354) +- (0,0.024) (9,0.767) +- (0,0.03) (10,0.616) +- (0,0.01) (11,0.889) +- (0,0.091)};
\node[font=\bfseries\fs{12}, anchor=south, inner sep=1.5pt] at (axis cs:0.19,0.852) {**};
\node[font=\bfseries\fs{12}, anchor=south, inner sep=1.5pt] at (axis cs:1.19,0.19) {***};
\node[font=\bfseries\fs{12}, anchor=south, inner sep=1.5pt] at (axis cs:3.19,0.856) {**};
\node[font=\bfseries\fs{12}, anchor=south, inner sep=1.5pt] at (axis cs:4.19,0.757) {*};
\node[font=\bfseries\fs{12}, anchor=south, inner sep=1.5pt] at (axis cs:5.19,0.777) {**};
\node[font=\bfseries\fs{12}, anchor=south, inner sep=1.5pt] at (axis cs:7.19,0.767) {**};
\node[font=\bfseries\fs{12}, anchor=south, inner sep=1.5pt] at (axis cs:8.19,0.378) {***};
\node[font=\bfseries\fs{12}, anchor=south, inner sep=1.5pt] at (axis cs:9.19,0.797) {**};
\node[font=\bfseries\fs{12}, anchor=south, inner sep=1.5pt] at (axis cs:10.19,0.626) {***};
\draw[dashed, color=kDiv, line width=1.3pt] (axis cs:11.5,0) -- (axis cs:11.5,1.36);
\end{axis}
\begin{axis}[kax, ymax=5, ytick={0,1,2,3,4,5}, axis y line*=right, axis x line=none, xtick=\empty]
\addplot[fill=black, draw=none, bar shift=-6pt, eb=black] coordinates {(12,1) +- (0,0.05) (13,1) +- (0,0.05) (14,1) +- (0,0.05) (15,1) +- (0,0.05) (16,1) +- (0,0.05) (17,1) +- (0,0.04)};
\addplot[fill=kGr, draw=none, bar shift=6pt, eb=kGr] coordinates {(12,2.79) +- (0,0.16) (13,3.95) +- (0,0.29) (14,3.81) +- (0,0.33) (15,2.62) +- (0,0.13) (16,3.81) +- (0,0.18) (17,3.5) +- (0,0.05)};
\node[font=\bfseries\fs{12}, anchor=south, inner sep=1.5pt] at (axis cs:12.19,2.95) {***};
\node[font=\bfseries\fs{12}, anchor=south, inner sep=1.5pt] at (axis cs:13.19,4.24) {***};
\node[font=\bfseries\fs{12}, anchor=south, inner sep=1.5pt] at (axis cs:14.19,4.14) {***};
\node[font=\bfseries\fs{12}, anchor=south, inner sep=1.5pt] at (axis cs:15.19,2.75) {***};
\node[font=\bfseries\fs{12}, anchor=south, inner sep=1.5pt] at (axis cs:16.19,3.99) {***};
\node[font=\bfseries\fs{12}, anchor=south, inner sep=1.5pt] at (axis cs:17.19,3.55) {***};
\end{axis}

% ===== L
\tx[font=\fs{21}]{278.6}{1520}{ALKBH5-RIP}
\tx[font=\bfseries\fs{15}, text=posR]{226.8}{1549.3}{Positive targets}
\tx[font=\bfseries\fs{15}, text=negB]{426.8}{1548.3}{Negative targets}
\fill[black] (397.3pt,-1585.5pt) rectangle (406.3pt,-1594.5pt);
\fill[lRe] (397.3pt,-1602.2pt) rectangle (406.3pt,-1611.2pt);
\tx[font=\fs{14}, anchor=west]{410.7}{1590}{IgG}
\tx[font=\fs{14}, anchor=west]{410.7}{1606.7}{Flag-IP}
\tx[font=\fs{18}, rotate=90]{66}{1643.3}{Input\%}
\begin{axis}[base, width=379.3pt, height=171pt, at={(103.6pt,-1729.3pt)}, anchor=south west,
 xmin=-0.62, xmax=10.6, ymin=0, ymax=20, ytick={0,5,10,15,20}, axis y line*=left, axis x line*=bottom,
 ybar, bar width=9pt, yticklabel style={font=\fs{19}},
 xtick={0,1,2,3,4,5,6,8.1,9.1,10.1}, xticklabels={CENPF,HNRNPF,MCM7,MSH6,PRKD2,SLC43A,TACC3,TFEB,KIAA0930,CLCN7},
 xticklabel style={rotate=45, anchor=north east, font=\bfseries\fs{14.5}, inner sep=1pt}]
\addplot[fill=black, draw=none, bar shift=-6.5pt, eb=black] coordinates {(0,0.2) +- (0,0.05) (1,0.05) +- (0,0.02) (2,0.25) +- (0,0.1) (3,0.05) +- (0,0.02) (4,0.15) +- (0,0.05) (5,0.3) +- (0,0.3) (6,0.1) +- (0,0.03) (8.1,1.3) +- (0,0.57) (9.1,0.05) +- (0,0.02) (10.1,0.78) +- (0,0.5)};
\addplot[fill=lRe, draw=none, bar shift=6.5pt, eb=lRe] coordinates {(0,13.37) +- (0,1.25) (1,5.96) +- (0,0.1) (2,9.98) +- (0,1.8) (3,12.98) +- (0,0.3) (4,4.48) +- (0,0.9) (5,4.13) +- (0,0.86) (6,16.6) +- (0,1.06) (8.1,7.52) +- (0,1.76) (9.1,6.39) +- (0,1.33) (10.1,8.19) +- (0,2.8)};
\node[font=\bfseries\fs{12}, anchor=south, inner sep=1.5pt] at (axis cs:0.19,14.62) {***};
\node[font=\bfseries\fs{12}, anchor=south, inner sep=1.5pt] at (axis cs:1.19,6.06) {***};
\node[font=\bfseries\fs{12}, anchor=south, inner sep=1.5pt] at (axis cs:2.19,11.78) {***};
\node[font=\bfseries\fs{12}, anchor=south, inner sep=1.5pt] at (axis cs:3.19,13.28) {***};
\node[font=\bfseries\fs{12}, anchor=south, inner sep=1.5pt] at (axis cs:4.19,5.38) {**};
\node[font=\bfseries\fs{12}, anchor=south, inner sep=1.5pt] at (axis cs:5.19,4.99) {**};
\node[font=\bfseries\fs{12}, anchor=south, inner sep=1.5pt] at (axis cs:6.19,17.66) {***};
\node[font=\bfseries\fs{12}, anchor=south, inner sep=1.5pt] at (axis cs:8.29,9.28) {**};
\node[font=\bfseries\fs{12}, anchor=south, inner sep=1.5pt] at (axis cs:9.29,7.72) {**};
\node[font=\bfseries\fs{12}, anchor=south, inner sep=1.5pt] at (axis cs:10.29,10.99) {*};
\draw[dashed, line width=1pt] (axis cs:7.06,-0.7) -- (axis cs:7.06,21.9);
\end{axis}

% ===== M
\tx[font=\fs{21}]{784.4}{1520}{m6A-RIP}
\tx[font=\bfseries\fs{15}, text=posR]{738.2}{1555}{Positive targets}
\tx[font=\bfseries\fs{15}, text=negB]{936.2}{1555}{Negative targets}
\fill[black] (894.3pt,-1584.8pt) rectangle (903.3pt,-1593.8pt);
\fill[mOr] (894.3pt,-1599.8pt) rectangle (903.3pt,-1608.8pt);
\tx[font=\bfseries\fs{13}, anchor=west]{905.6}{1589.3}{i-shNS}
\tx[font=\bfseries\fs{13}, anchor=west]{905.6}{1604.3}{i-shA5-\#3}
\tx[font=\fs{21}, rotate=90]{573.2}{1646.7}{Fold Enrichment}
\begin{axis}[base, width=382.9pt, height=173.3pt, at={(611.9pt,-1729.3pt)}, anchor=south west,
 xmin=-0.68, xmax=10.48, ymin=0, ymax=40, ytick={0,10,20,30,40}, axis y line*=left, axis x line*=bottom,
 ybar, bar width=8.8pt, yticklabel style={font=\fs{21}},
 xtick={0,1,2,3,4,5,6,8,9,10}, xticklabels={CENPH,HNRNPF,MCM7,MSH6,PRKDC,SLC43A,TACC3,TFEB,BCL2A1,CLCN7},
 xticklabel style={rotate=45, anchor=north east, font=\bfit\fs{15}, inner sep=1pt}]
\addplot[fill=black, draw=none, bar shift=-6.2pt, eb=black] coordinates {(0,0.7) +- (0,0.3) (1,1.6) +- (0,0.3) (2,0.6) +- (0,0.2) (3,4.7) +- (0,0.8) (4,3.5) +- (0,1.1) (5,1.7) +- (0,0.6) (6,6.7) +- (0,0.5) (8,1.2) +- (0,0.2) (9,1.9) +- (0,0.1) (10,4.6) +- (0,1.8)};
\addplot[fill=mOr, draw=none, bar shift=6.2pt, eb=mOr] coordinates {(0,4.6) +- (0,0.6) (1,28.9) +- (0,1.7) (2,1.6) +- (0,0.55) (3,28.2) +- (0,8.0) (4,6.15) +- (0,1.75) (5,13.5) +- (0,2.3) (6,18.3) +- (0,2.5) (8,3.3) +- (0,0.4) (9,9.3) +- (0,2.6) (10,11.9) +- (0,3.7)};
\node[font=\bfseries\fs{12}, anchor=south, inner sep=1.5pt] at (axis cs:0.18,5.2) {***};
\node[font=\bfseries\fs{12}, anchor=south, inner sep=1.5pt] at (axis cs:1.18,30.6) {**};
\node[font=\bfseries\fs{12}, anchor=south, inner sep=1.5pt] at (axis cs:2.18,2.15) {*};
\node[font=\bfseries\fs{12}, anchor=south, inner sep=1.5pt] at (axis cs:3.18,36.2) {*};
\node[font=\bfseries\fs{12}, anchor=south, inner sep=1.5pt] at (axis cs:5.18,15.8) {*};
\node[font=\bfseries\fs{12}, anchor=south, inner sep=1.5pt] at (axis cs:6.18,20.8) {*};
\node[font=\bfseries\fs{12}, anchor=south, inner sep=1.5pt] at (axis cs:8.18,3.7) {***};
\node[font=\bfseries\fs{12}, anchor=south, inner sep=1.5pt] at (axis cs:9.18,11.9) {*};
\draw[dashed, line width=1pt] (axis cs:7.02,-0.7) -- (axis cs:7.02,41.9);
\end{axis}

\end{tikzpicture}
\end{document}
